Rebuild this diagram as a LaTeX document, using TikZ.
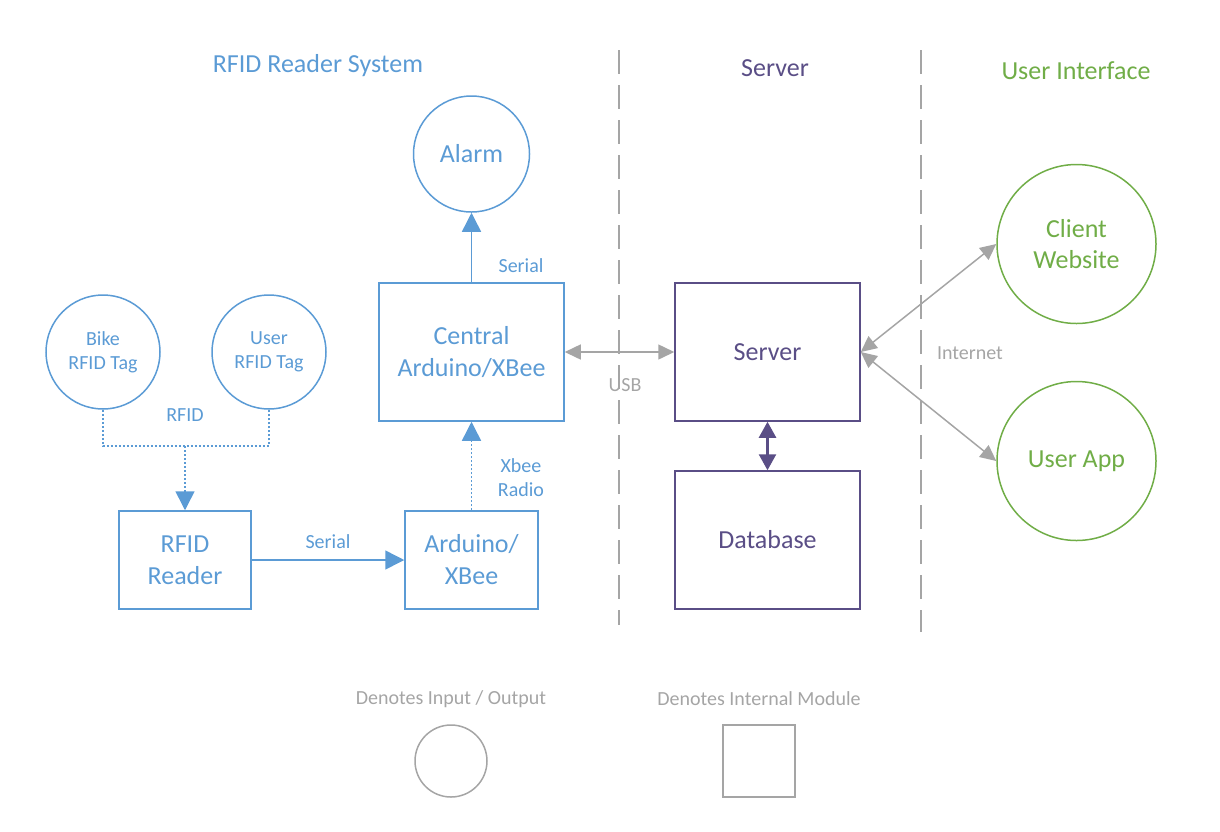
\documentclass[tikz,border=0pt]{standalone}
\usepackage{fontspec}
\setmainfont{Carlito}
\usetikzlibrary{arrows.meta}
\definecolor{cblue}{HTML}{5B9BD5}
\definecolor{cpurple}{HTML}{5A4E86}
\definecolor{cgreen}{HTML}{70AD47}
\definecolor{cgray}{HTML}{A5A5A5}
\tikzset{
  iocirc/.style={circle,draw,line width=1.5pt,inner sep=0pt,align=center,font=\fontsize{26}{31}\selectfont},
  smallcirc/.style={iocirc,font=\fontsize{20}{24}\selectfont},
  modbox/.style={rectangle,draw,line width=1.5pt,inner sep=0pt,align=center,font=\fontsize{26}{32}\selectfont},
  lbl/.style={font=\fontsize{20}{24}\selectfont,align=center,inner sep=0pt},
  title/.style={font=\fontsize{26}{31}\selectfont,inner sep=0pt},
  bluetip/.tip={Triangle[length=19pt 0 0,width=19pt 0 0]},
  graytip/.tip={Triangle[length=16pt 0 0,width=15pt 0 0]},
  purptip/.tip={Triangle[length=16pt 0 0,width=17pt 0 0]},
  bluearrow/.style={draw=cblue,line width=1.5pt,-bluetip},
  bluedot/.style={draw=cblue,line width=1.5pt,dash pattern=on 2pt off 2pt},
  grayarrow/.style={draw=cgray,line width=1.5pt,graytip-graytip},
  divider/.style={draw=cgray,line width=2pt,dash pattern=on 24pt off 11pt},
}
\begin{document}
\begin{tikzpicture}[x=1pt,y=-1pt]
\useasboundingbox (0,0) rectangle (1220,831);
% dividers
\draw[divider] (619,50) -- (619,625);
\draw[divider] (921,50) -- (921,632);
% titles
\node[title,text=cblue] (t1) at (318,66) {RFID Reader System};
\node[title,text=cpurple] (t2) at (775,68) {Server};
\node[title,text=cgreen] (t3) at (1076,71) {User Interface};
% RFID system
\node[iocirc,draw=cblue,text=cblue,minimum size=116pt] (alarm) at (471.5,154) {Alarm};
\node[smallcirc,draw=cblue,text=cblue,minimum size=114pt] (bike) at (103,352) {Bike\\RFID Tag};
\node[smallcirc,draw=cblue,text=cblue,minimum size=114pt] (user) at (269,352) {User\\RFID Tag};
\node[modbox,draw=cblue,text=cblue,minimum width=185pt,minimum height=138pt] (central) at (471.5,352) {Central\\Arduino/XBee};
\node[modbox,draw=cblue,text=cblue,minimum width=132pt,minimum height=98pt] (reader) at (185,560) {RFID\\Reader};
\node[modbox,draw=cblue,text=cblue,minimum width=133pt,minimum height=98pt] (ard) at (471.5,560) {Arduino/\\XBee};
% server
\node[modbox,draw=cpurple,text=cpurple,minimum width=185pt,minimum height=138pt] (server) at (767.5,352) {Server};
\node[modbox,draw=cpurple,text=cpurple,minimum width=185pt,minimum height=138pt] (db) at (767.5,540) {Database};
% UI
\node[iocirc,draw=cgreen,text=cgreen,minimum size=159pt] (client) at (1076.5,244) {Client\\Website};
\node[iocirc,draw=cgreen,text=cgreen,minimum size=159pt] (app) at (1076.5,461) {User App};
% connectors
\draw[bluearrow] (central.north) -- (alarm.south);
\coordinate (j) at (185,446);
\draw[bluedot] (bike.south) |- (j) -| (user.south);
\draw[bluedot,-bluetip] (j) -- (reader.north);
\draw[bluearrow] (reader.east) -- (ard.west);
\draw[bluedot,-bluetip] (ard.north) -- (central.south);
\draw[grayarrow] (central.east) -- (server.west);
\draw[draw=cpurple,line width=2.5pt,purptip-purptip] (server.south) -- (db.north);
\draw[grayarrow] (server.east) -- (client.west);
\draw[grayarrow] (server.east) -- (app.west);
% labels
\node[lbl,text=cblue] (l1) at (521,266) {Serial};
\node[lbl,text=cblue] (l2) at (185,415) {RFID};
\node[lbl,text=cblue] (l3) at (521,478) {Xbee\\Radio};
\node[lbl,text=cblue] (l4) at (328,542) {Serial};
\node[lbl,text=cgray] (l5) at (625,385) {USB};
\node[lbl,text=cgray] (l6) at (970,353) {Internet};
% legend
\node[lbl,text=cgray] (g1) at (451,699) {Denotes Input / Output};
\node[lbl,text=cgray] (g2) at (759,699) {Denotes Internal Module};
\node[circle,draw=cgray,line width=1.5pt,minimum size=72pt,inner sep=0pt] (gc) at (451,761) {};
\node[rectangle,draw=cgray,line width=1.5pt,minimum size=72pt,inner sep=0pt] (gs) at (759,761) {};
\end{tikzpicture}
\end{document}
